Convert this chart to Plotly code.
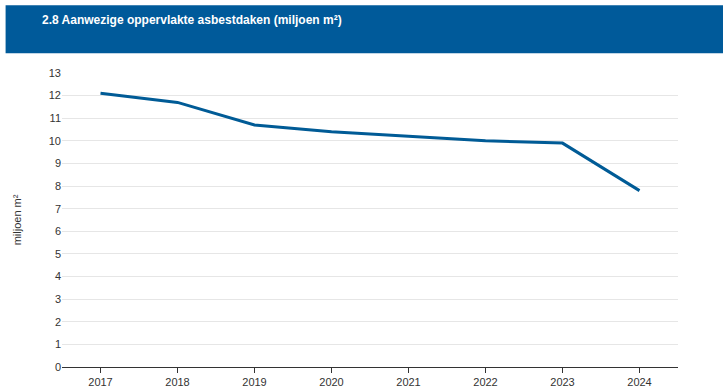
import plotly.graph_objects as go

years = ["2017", "2018", "2019", "2020", "2021", "2022", "2023", "2024"]
values = [12.1, 11.7, 10.7, 10.4, 10.2, 10.0, 9.9, 7.8]
y_ticks = list(range(0, 14))

W, H = 723, 388
ml, mr, mt, mb = 61.5, 44.5, 72.7, 21.3
pw, ph = W - ml - mr, H - mt - mb

def px(x):
    return (x - ml) / pw

def py(y):
    return (H - mb - y) / ph

fig = go.Figure()
fig.add_trace(go.Scatter(
    x=years, y=values, mode="lines",
    line=dict(color="#005b96", width=3),
    hoverinfo="x+y", showlegend=False,
))

fig.update_layout(
    width=W, height=H,
    margin=dict(l=ml, r=mr, t=mt, b=mb, autoexpand=False),
    paper_bgcolor="white", plot_bgcolor="white",
    font=dict(family="Liberation Sans, Arial, sans-serif", size=11, color="#333333"),
    xaxis=dict(
        type="category", range=[-0.5, 7.5], automargin=False,
        showgrid=False, showline=True, linecolor="#333333", linewidth=1,
        ticks="outside", ticklen=5, tickcolor="#333333",
        tickfont=dict(size=11, color="#333333"), fixedrange=True,
    ),
    yaxis=dict(
        range=[0, 13], tickvals=y_ticks, automargin=False,
        showgrid=True, gridcolor="#e6e6e6", gridwidth=1,
        zeroline=False, showline=False,
        tickfont=dict(size=11, color="#333333"),
        title=dict(text="miljoen m²", font=dict(size=11, color="#333333"), standoff=24),
        fixedrange=True,
    ),
    shapes=[dict(
        type="rect", xref="paper", yref="paper",
        x0=px(5), x1=px(W + 2), y0=py(53), y1=py(5),
        fillcolor="#005a9a", line=dict(width=0), layer="below",
    )],
    annotations=[dict(
        text="<b>2.8 Aanwezige oppervlakte asbestdaken (miljoen m²)</b>",
        xref="paper", yref="paper", x=px(39), y=py(20),
        xanchor="left", yanchor="middle", showarrow=False,
        font=dict(family="Liberation Sans, Arial, sans-serif", size=12, color="white"),
    )],
)

fig.write_html(
    "out.html",
    config={"displayModeBar": False},
    post_script="document.body.style.margin='0';document.body.style.overflow='hidden';",
)
